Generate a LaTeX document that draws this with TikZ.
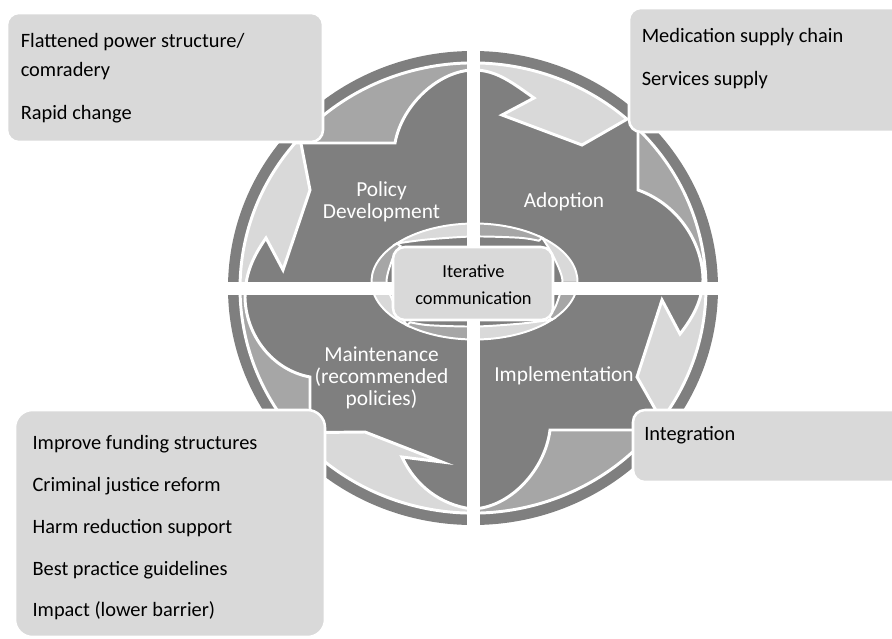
\documentclass[tikz,border=0pt]{standalone}
\usepackage{fontspec}
\setmainfont{Carlito}
\usetikzlibrary{calc}

\definecolor{quadgray}{HTML}{7F7F7F}
\definecolor{tailgray}{HTML}{A6A6A6}
\definecolor{headgray}{HTML}{D9D9D9}

% outlines of the four ring arrows (units are pixels, y grows downwards)
\newcommand\pathW{(310,377) -- (310,449) arc[start angle=134.4, end angle=222, x radius=233, y radius=225]
  -- (310,190) -- (283,270) -- (266,238) .. controls (252,258) and (245,275) .. (245,298)
  .. controls (246,335) and (272,370) .. (310,377) -- cycle}
\newcommand\pathN{(395,143) -- (294.7,143) arc[start angle=220.1, end angle=311.4, x radius=233, y radius=225]
  -- (582,145) -- (502,115) -- (534,98) .. controls (514,84) and (497,70) .. (474,70)
  .. controls (440,70) and (402,104) .. (395,143) -- cycle}
\newcommand\pathE{(638,190) -- (638,129) arc[start angle=315.1, end angle=396, x radius=233, y radius=225]
  -- (637,377) -- (662,300) -- (680,334) .. controls (694,316) and (702,300) .. (703,280)
  .. controls (703,245) and (680,205) .. (638,190) -- cycle}
\newcommand\pathS{(550,430) -- (653.8,430) arc[start angle=39.1, end angle=140, x radius=233, y radius=225]
  -- (365,432) -- (442,462) -- (402,457) .. controls (415,485) and (440,505) .. (472,509)
  .. controls (510,508) and (545,470) .. (550,430) -- cycle}
% one of the small crescent arrows round the centre, tail at angle #1
\newcommand\smallpath[1]{({#1-4}:103 and 58) arc[start angle=#1-4, end angle=#1-94, x radius=103, y radius=58]
  -- plot[smooth] coordinates {({#1-94}:103 and 58) ({#1-76}:92 and 49) ({#1-46}:88 and 45)
  ({#1-16}:93 and 50) ({#1-4}:98 and 54)} -- cycle}

\begin{document}
\begin{tikzpicture}[x=0.025cm,y=-0.025cm,
    ringline/.style={draw=white,line width=2.1pt,line join=miter},
    infobox/.style={fill=headgray,draw=white,line width=1.8pt,rounded corners=8.5pt},
    boxtext/.style={anchor=base west,inner sep=0pt,font=\fontsize{14.5}{17}\selectfont},
    quadlabel/.style={align=center,inner sep=0pt,text=white,font=\fontsize{15.2}{15.6}\selectfont}]
  \useasboundingbox (0,0) rectangle (892,638);

  % the disc
  \fill[quadgray] (473,288) ellipse [x radius=245, y radius=237];

  % ring arrows, tail half darker than the head half
  \fill[headgray] \pathW;
  \begin{scope}
    \clip (0,288) rectangle (473,640);
    \fill[tailgray] \pathW;
  \end{scope}
  \draw[ringline] \pathW;

  \fill[headgray] \pathN;
  \begin{scope}
    \clip (0,0) rectangle (473,288);
    \fill[tailgray] \pathN;
  \end{scope}
  \draw[ringline] \pathN;

  \fill[headgray] \pathE;
  \begin{scope}
    \clip (473,0) rectangle (892,288);
    \fill[tailgray] \pathE;
  \end{scope}
  \draw[ringline] \pathE;

  \fill[headgray] \pathS;
  \begin{scope}
    \clip (473,288) rectangle (892,640);
    \fill[tailgray] \pathS;
  \end{scope}
  \draw[ringline] \pathS;

  % small arrows round the centre, running the other way
  \begin{scope}[shift={(474.5,281.5)}]
    \foreach \t in {315,225,135,45} {
      \fill[headgray] \smallpath{\t};
      \begin{scope}
        \clip (0,0) -- ({\t+45}:150) -- (\t:220) -- ({\t-45}:150) -- cycle;
        \fill[tailgray] \smallpath{\t};
      \end{scope}
      \draw[white,line width=1.4pt,line join=miter] \smallpath{\t};
    }
  \end{scope}

  % white cross splitting the quadrants
  \fill[white] (467,30) rectangle (480,545);
  \fill[white] (210,282) rectangle (735,295);

  % centre box
  \draw[infobox] (393,247) rectangle (553,320);
  \node[align=center,inner sep=0pt,font=\fontsize{13.1}{18.9}\selectfont] (iter) at (473.5,284.5)
    {Iterative\\communication};

  % corner boxes
  \draw[infobox] (7,13) rectangle (323,142);
  \draw[infobox] (629,8) rectangle (905,132);
  \draw[infobox,rounded corners=12.5pt] (15,410) rectangle (325,637);
  \draw[infobox] (633,410) rectangle (905,482);

  % quadrant names
  \node[quadlabel] (policy) at (381.5,202) {Policy\\Development};
  \node[quadlabel,anchor=base] (adopt) at (564,207.3) {Adoption};
  \node[quadlabel] (maint) at (381.5,377.5) {Maintenance\\(recommended\\policies)};
  \node[quadlabel,anchor=base] (impl) at (564,381.7) {Implementation};

  % box contents
  \node[boxtext] (flat) at (20.5,47.5) {Flattened power structure/};
  \node[boxtext] (comrad) at (20.5,76.5) {comradery};
  \node[boxtext] (rapid) at (20.5,119) {Rapid change};
  \node[boxtext] (medic) at (641.5,42.7) {Medication supply chain};
  \node[boxtext] (serv) at (641.5,85) {Services supply};
  \node[boxtext] (integ) at (644,440.7) {Integration};
  \node[boxtext] (fund) at (32.3,449.3) {Improve funding structures};
  \node[boxtext] (crim) at (32.3,491.7) {Criminal justice reform};
  \node[boxtext] (harm) at (32.3,533.3) {Harm reduction support};
  \node[boxtext] (best) at (32.3,575) {Best practice guidelines};
  \node[boxtext] (impact) at (32.3,616.7) {Impact (lower barrier)};
\end{tikzpicture}
\end{document}
